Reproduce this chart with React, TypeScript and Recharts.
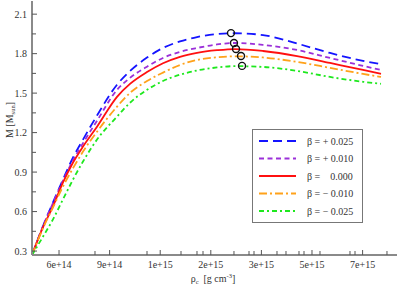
import React from 'react';
import { ComposedChart, Line, Scatter, XAxis, YAxis } from 'recharts';

// x positions on the (evenly labelled) density axis; integer positions carry the tick labels
const xPos = [-0.534, -0.316, -0.119, 0.079, 0.277, 0.474, 0.751, 1.146, 1.403, 1.739, 2.055, 2.391, 2.727, 3.123, 3.478, 4.032, 4.704, 5.356, 6.008, 6.364];
const mPlus025 = [0.27, 0.49, 0.67, 0.844, 1.011, 1.147, 1.33, 1.564, 1.668, 1.77, 1.843, 1.893, 1.926, 1.949, 1.955, 1.941, 1.877, 1.805, 1.745, 1.72];
const mPlus010 = [0.27, 0.489, 0.665, 0.835, 0.99, 1.12, 1.29, 1.525, 1.616, 1.701, 1.767, 1.813, 1.843, 1.87, 1.881, 1.866, 1.828, 1.767, 1.707, 1.676];
const mZero = [0.27, 0.481, 0.64, 0.822, 0.973, 1.094, 1.245, 1.472, 1.57, 1.66, 1.727, 1.776, 1.806, 1.826, 1.835, 1.82, 1.782, 1.729, 1.676, 1.646];
const mMinus010 = [0.27, 0.474, 0.632, 0.791, 0.93, 1.056, 1.207, 1.397, 1.502, 1.592, 1.656, 1.714, 1.752, 1.772, 1.78, 1.771, 1.737, 1.692, 1.646, 1.623];
const mMinus025 = [0.27, 0.41, 0.541, 0.693, 0.844, 0.98, 1.147, 1.321, 1.427, 1.525, 1.592, 1.64, 1.672, 1.695, 1.705, 1.699, 1.669, 1.623, 1.586, 1.571];

const peakX = [3.399, 3.458, 3.498, 3.597, 3.617];
const peakM = [1.956, 1.881, 1.835, 1.782, 1.707];

const xTickLabels = ['6e+14', '9e+14', '1e+15', '2e+15', '3e+15', '5e+15', '7e+15'];
const xMajor = [0, 1, 2, 3, 4, 5, 6];
const xMinor = [0.711, 1.739, 2.411, 2.727, 2.846, 3.458, 3.755, 3.854, 4.308, 4.486, 4.743, 4.842, 5.158, 5.751, 5.85, 6.482];
const yMajor = [0.3, 0.6, 0.9, 1.2, 1.5, 1.8, 2.1];
const yMinor = [0.45, 0.75, 1.05, 1.35, 1.65, 1.95];

const seriesNames = ['\u03b2 = + 0.025', '\u03b2 = + 0.010', '\u03b2 =    0.000', '\u03b2 = \u2212 0.010', '\u03b2 = \u2212 0.025'];
const seriesKeys = ['b1', 'b2', 'b3', 'b4', 'b5'];
const seriesColors = ['#1414ff', '#9b30d9', '#ff1010', '#ffa21a', '#1ee81e'];
const seriesDash = ['9 5', '5 3.5', undefined, '8 3 2 3', '5 3 2 3'];
const seriesValues = [mPlus025, mPlus010, mZero, mMinus010, mMinus025];

const data = xPos.map((x, i) => {
  const row: any = { x };
  seriesKeys.forEach((k, s) => { row[k] = seriesValues[s][i]; });
  return row;
});
const peaks = peakX.map((x, i) => ({ x, m: peakM[i] }));

const FONT = "'Liberation Serif', 'Times New Roman', Times, serif";
const FRAME = '#8a8a8a';
const TICK = '#555';
const txt = { fontFamily: FONT, fontSize: 10, fill: '#333' } as any;

const XTick = (props: any) => {
  const { x, y, payload, top } = props;
  const v = payload.value;
  const major = Math.abs(v - Math.round(v)) < 1e-9;
  const len = major ? 5 : 4;
  const dir = top ? 1 : -1;
  return (
    <g>
      <line x1={x} x2={x} y1={y} y2={y + dir * len} stroke={TICK} strokeWidth={1} />
      {!top && major && (
        <text x={x} y={y + 13} textAnchor="middle" style={txt}>
          {xTickLabels[Math.round(v)]}
        </text>
      )}
    </g>
  );
};

const YTick = (props: any) => {
  const { x, y, payload, right } = props;
  const v = payload.value;
  const major = Math.abs(v / 0.3 - Math.round(v / 0.3)) < 1e-6;
  const len = major ? 5 : 4;
  const dir = right ? -1 : 1;
  return (
    <g>
      <line x1={x} x2={x + dir * len} y1={y} y2={y} stroke={TICK} strokeWidth={1} />
      {!right && major && (
        <text x={x - 5} y={y + 3.5} textAnchor="end" style={txt}>
          {v.toFixed(1)}
        </text>
      )}
    </g>
  );
};

const PeakCircle = (props: any) => {
  const { cx, cy } = props;
  return <circle cx={cx} cy={cy} r={3.5} fill="none" stroke="#111" strokeWidth={1.4} />;
};

export default function App() {
  const xDomain: [number, number] = [-0.534, 6.68];
  const yDomain: [number, number] = [0.27, 2.2];
  const xTicks = [...xMajor, ...xMinor].sort((a, b) => a - b);
  const yTicks = [...yMajor, ...yMinor].sort((a, b) => a - b);
  return (
    <div style={{ position: 'absolute', left: 0, top: 0, width: 399, height: 288, background: '#fff' }}>
      <ComposedChart width={399} height={288} data={data} margin={{ top: 1, right: 2, bottom: 0, left: 0 }}>
        <XAxis dataKey="x" type="number" domain={xDomain} ticks={xTicks} interval={0} height={33}
          tickSize={0} tickMargin={0} tickLine={false} allowDataOverflow
          axisLine={{ stroke: FRAME, strokeWidth: 2 }} tick={(p: any) => <XTick {...p} />} />
        <XAxis xAxisId="top" orientation="top" dataKey="x" type="number" domain={xDomain} ticks={xTicks} interval={0} height={0}
          tickSize={0} tickMargin={0} tickLine={false} allowDataOverflow
          axisLine={{ stroke: FRAME, strokeWidth: 2 }} tick={(p: any) => <XTick {...p} top />} />
        <YAxis type="number" domain={yDomain} ticks={yTicks} interval={0} width={32}
          tickSize={0} tickMargin={0} tickLine={false} allowDataOverflow
          axisLine={{ stroke: FRAME, strokeWidth: 2 }} tick={(p: any) => <YTick {...p} />} />
        <YAxis yAxisId="right" orientation="right" type="number" domain={yDomain} ticks={yTicks} interval={0} width={0}
          tickSize={0} tickMargin={0} tickLine={false} allowDataOverflow
          axisLine={{ stroke: FRAME, strokeWidth: 2 }} tick={(p: any) => <YTick {...p} right />} />
        {seriesKeys.map((k, s) => (
          <Line key={k} dataKey={k} type="monotone" stroke={seriesColors[s]} strokeWidth={1.8}
            strokeDasharray={seriesDash[s]} dot={false} activeDot={false} isAnimationActive={false} />
        ))}
        <Scatter data={peaks} dataKey="m" shape={(p: any) => <PeakCircle {...p} />} isAnimationActive={false} />
      </ComposedChart>
      <svg width={399} height={288} style={{ position: 'absolute', left: 0, top: 0, pointerEvents: 'none' }}>
        <text transform="translate(13,120) rotate(-90)" textAnchor="middle" style={txt}>
          M [M<tspan style={{ fontSize: 6.5 }} dy={2}>sun</tspan><tspan dy={-2}>]</tspan>
        </text>
        <text x={213} y={282} textAnchor="middle" style={txt}>
          {'\u03c1'}<tspan style={{ fontSize: 6.5 }} dy={2}>c</tspan><tspan dy={-2}>{'\u00a0\u00a0[g cm'}</tspan>
          <tspan style={{ fontSize: 6.5 }} dy={-4}>-3</tspan><tspan dy={4}>]</tspan>
        </text>
        <rect x={252.5} y={129.5} width={110} height={93} fill="#fff" stroke="#777" strokeWidth={1} />
        {seriesKeys.map((k, s) => {
          const yy = 141 + s * 17.5;
          return (
            <g key={k}>
              <line x1={259} x2={296} y1={yy} y2={yy} stroke={seriesColors[s]} strokeWidth={1.8} strokeDasharray={seriesDash[s]} />
              <text x={307} y={yy + 3.5} style={{ ...txt, whiteSpace: 'pre' }} xmlSpace="preserve">{seriesNames[s]}</text>
            </g>
          );
        })}
      </svg>
    </div>
  );
}
